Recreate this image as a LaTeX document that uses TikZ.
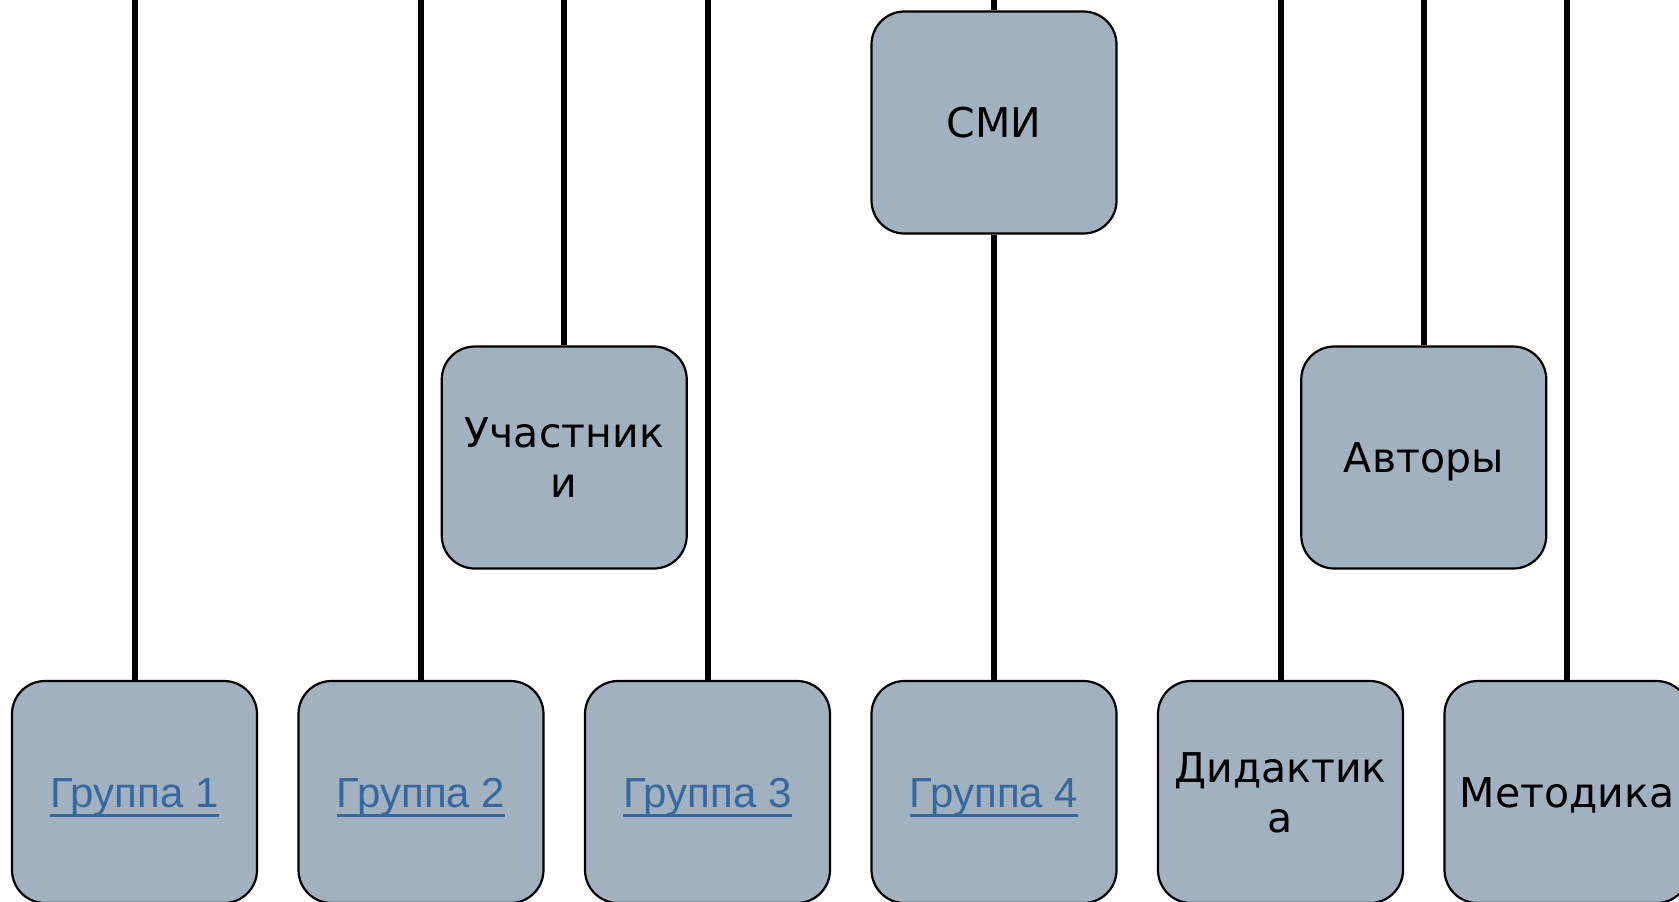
\documentclass[tikz,border=0pt]{standalone}
\usepackage{fontspec}
\newfontfamily\vfont{DejaVu Sans}
\newfontfamily\afont{Liberation Sans}
\definecolor{boxfill}{HTML}{A2B1C0}
\definecolor{linkblue}{HTML}{35689F}
\newcommand\ulinktext[1]{\setbox0\hbox{#1}\rlap{\smash{\rule[-5pt]{\wd0}{1.5pt}}}\box0}
\tikzset{
  orgbox/.style={draw=black, line width=1.1pt, fill=boxfill, rounded corners=16.5pt,
    minimum width=122.5pt, minimum height=111pt, inner sep=0pt, align=center,
    font=\vfont\fontsize{20.5}{25}\selectfont, text=black,
    text height=15pt, text depth=0pt},
  twoline/.style={text height=40pt, text depth=0pt},
  linkbox/.style={orgbox, font=\afont\fontsize{21}{25}\selectfont, text=linkblue,
    text height=15pt, text depth=0pt},
  conn/.style={line width=3pt, draw=black}
}
\begin{document}
\begin{tikzpicture}[x=0.5pt, y=-0.5pt]
\useasboundingbox (0,0) rectangle (1679,901);
% boxes
\node[linkbox] (g1) at (134.5,792) {\ulinktext{Группа 1}};
\node[linkbox] (g2) at (421,792) {\ulinktext{Группа 2}};
\node[linkbox] (g3) at (707.5,792) {\ulinktext{Группа 3}};
\node[linkbox] (g4) at (994,792) {\ulinktext{Группа 4}};
\node[orgbox, twoline] (did) at (1280.5,792) {Дидактик\\а};
\node[orgbox] (met) at (1567,792) {Методика};
\node[orgbox, twoline] (uch) at (564.25,457.5) {Участник\\и};
\node[orgbox] (avt) at (1423.75,457.5) {Авторы};
\node[orgbox] (smi) at (994,122.5) {СМИ};
% top ends of connectors
\coordinate (tg1) at (134.5,0);
\coordinate (tg2) at (421,0);
\coordinate (tuch) at (564.25,0);
\coordinate (tg3) at (707.5,0);
\coordinate (tsmi) at (994,0);
\coordinate (tdid) at (1280.5,0);
\coordinate (tavt) at (1423.75,0);
\coordinate (tmet) at (1567,0);
% connectors
\draw[conn] (tg1) -- (g1.north);
\draw[conn] (tg2) -- (g2.north);
\draw[conn] (tuch) -- (uch.north);
\draw[conn] (tg3) -- (g3.north);
\draw[conn] (tsmi) -- (smi.north);
\draw[conn] (smi.south) -- (g4.north);
\draw[conn] (tdid) -- (did.north);
\draw[conn] (tavt) -- (avt.north);
\draw[conn] (tmet) -- (met.north);
\end{tikzpicture}
\end{document}
